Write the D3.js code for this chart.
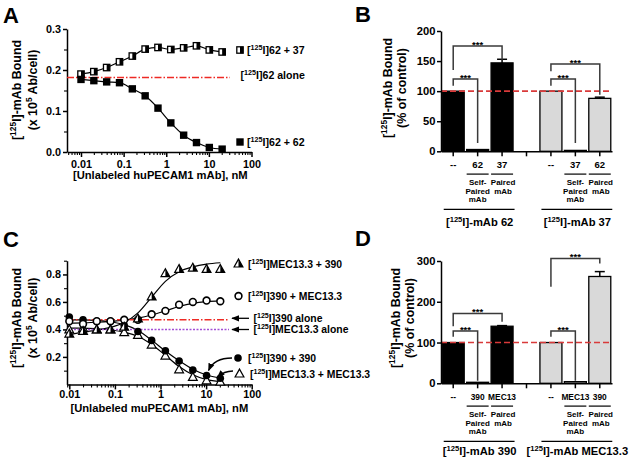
<!DOCTYPE html>
<html><head><meta charset="utf-8">
<script src="https://cdn.jsdelivr.net/npm/d3@7"></script>
<style>
body{margin:0;background:#fff}
svg text{font-family:"Liberation Sans",Arial,Helvetica,sans-serif;font-weight:bold;fill:#000}
</style>
</head><body>
<svg id="c" width="636" height="463"></svg>
<script>
// ---------------- DATA ----------------
const conc = [0.01,0.02,0.04,0.08,0.16,0.32,0.64,1.28,2.56,5.12,10.24,20.48];
const logTicks = [0.01,0.1,1,10,100];

// Panel A
const a62plus37 = [0.190,0.196,0.206,0.220,0.234,0.251,0.255,0.250,0.254,0.259,0.249,0.244];
const a62plus62 = [0.177,0.174,0.171,0.169,0.154,0.137,0.107,0.071,0.041,0.023,0.011,0.007];
const a62alone = 0.182;
const aYTicks = [0,0.1,0.2,0.3];

// Panel C
const cMECplus390    = [0.37,0.39,0.40,0.40,0.42,0.48,0.64,0.81,0.84,0.85,0.84,0.84];
const cMECplus390Fit = [0.36,0.38,0.395,0.415,0.45,0.52,0.635,0.75,0.82,0.855,0.875,0.885];
const c390plusMEC    = [0.46,0.44,0.46,0.46,0.47,0.47,0.51,0.535,0.58,0.60,0.61,0.605];
const c390plusMECFit = [0.445,0.448,0.452,0.458,0.467,0.482,0.505,0.535,0.567,0.59,0.602,0.607];
const c390plus390    = [0.49,0.47,0.46,0.46,0.43,0.385,0.32,0.245,0.17,0.105,0.065,0.045];
const c390plus390Fit = [0.47,0.47,0.466,0.456,0.435,0.392,0.322,0.243,0.172,0.11,0.068,0.045];
const cMECplusMEC    = [0.40,0.41,0.40,0.40,0.38,0.36,0.29,0.21,0.11,0.055,0.03,0.02];
const cMECplusMECFit = [0.41,0.41,0.405,0.396,0.38,0.35,0.29,0.212,0.13,0.07,0.035,0.02];
const c390alone = 0.47;
const cMECalone = 0.40;
const cYTicks = [0.2,0.4,0.6,0.8];

// Panel B
const bCats   = ['--','62','37','','--','37','62'];
const bVals   = [100, 3, 147, null, 100, 1.5, 88];
const bErr    = [0, 0, 6, null, 0, 0, 2];
const bGroup  = [0,0,0,null,1,1,1];
const bYTicks = [0,50,100,150,200];
const bBrackets = [
  {from:0,to:1,top:120,l:109,r:14},
  {from:0,to:2,top:175,l:135,r:152},
  {from:4,to:5,top:120,l:109,r:14},
  {from:4,to:6,top:145,l:133,r:94}];
const bGroupLabels = [{text:['[','^125','I]-mAb 62'],from:0,to:2},{text:['[','^125','I]-mAb 37'],from:4,to:6}];

// Panel D
const dCats   = ['--','390','MEC13','','--','MEC13','390'];
const dVals   = [100, 2.5, 140, null, 100, 4, 262];
const dErr    = [0, 0, 1.5, null, 0, 0, 12];
const dGroup  = [0,0,0,null,1,1,1];
const dYTicks = [0,100,200,300];
const dBrackets = [
  {from:0,to:1,top:128,l:114,r:6},
  {from:0,to:2,top:171,l:140,r:151},
  {from:4,to:5,top:128,l:114,r:6},
  {from:4,to:6,top:306,l:237,r:294}];
const dGroupLabels = [{text:['[','^125','I]-mAb 390'],from:0,to:2},{text:['[','^125','I]-mAb MEC13.3'],from:4,to:6}];

const subLabels = [null,['Self-','Paired','mAb'],['Paired','mAb'],null,null,['Self-','Paired','mAb'],['Paired','mAb']];

// ---------------- HELPERS ----------------
const svg = d3.select('#c');
const defs = svg.append('defs');
defs.append('marker').attr('id','ah').attr('viewBox','0 0 10 10').attr('refX',9).attr('refY',5)
  .attr('markerWidth',6).attr('markerHeight',6).attr('orient','auto')
  .append('path').attr('d','M0,1L10,5L0,9Z').attr('fill','#000');

function rich(g, x, y, parts, fs, anchor, rotate) {
  const t = g.append('text').attr('x',x).attr('y',y).attr('font-size',fs).attr('text-anchor',anchor||'start');
  if (rotate) t.attr('transform',`rotate(-90,${x},${y})`);
  let up = false;
  parts.forEach(p => {
    const sup = p.startsWith('^');
    const ts = t.append('tspan').text(sup ? p.slice(1) : p);
    if (sup) { ts.attr('font-size', fs*0.68).attr('dy', -fs*0.38); up = true; }
    else if (up) { ts.attr('dy', fs*0.38); up = false; }
  });
  return t;
}

function marker(g, type, cx, cy) {
  if (type==='sqFilled') {
    g.append('rect').attr('x',cx-3.7).attr('y',cy-3.7).attr('width',7.4).attr('height',7.4).attr('fill','#000');
  } else if (type==='sqHalf') {
    g.append('rect').attr('x',cx-3.2).attr('y',cy-3.2).attr('width',6.4).attr('height',6.4).attr('fill','#fff').attr('stroke','#000').attr('stroke-width',1.3);
    g.append('rect').attr('x',cx).attr('y',cy-3.2).attr('width',3.2).attr('height',6.4).attr('fill','#000');
  } else if (type==='circFilled') {
    g.append('circle').attr('cx',cx).attr('cy',cy).attr('r',3.8).attr('fill','#000');
  } else if (type==='circOpen') {
    g.append('circle').attr('cx',cx).attr('cy',cy).attr('r',3.4).attr('fill','#fff').attr('stroke','#000').attr('stroke-width',1.6);
  } else if (type==='triOpen' || type==='triHalf') {
    g.append('path').attr('d',`M${cx},${cy-4.4}L${cx+4.4},${cy+3.5}L${cx-4.4},${cy+3.5}Z`)
      .attr('fill','#fff').attr('stroke','#000').attr('stroke-width',1.2).attr('stroke-linejoin','miter');
    if (type==='triHalf')
      g.append('path').attr('d',`M${cx},${cy-4.4}L${cx+4.4},${cy+3.5}L${cx},${cy+3.5}Z`).attr('fill','#000');
  }
}

function styleAxis(s, fs) {
  s.selectAll('path,line').attr('stroke','#000').attr('stroke-width',1.5);
  s.selectAll('text').attr('font-size',fs).attr('fill','#000');
}

function logPanel(cfg) {
  const g = svg.append('g');
  const x0 = d3.scaleLog().domain([0.01,100]).range([cfg.x01, cfg.x100]);
  const dStart = x0.invert(cfg.axisX);
  const x = d3.scaleLog().domain([dStart,100]).range([cfg.axisX, cfg.x100]);
  const y = d3.scaleLinear().domain(cfg.yDom).range([cfg.yBottom, cfg.yTop]);
  const minor = [];
  for (let e=-3;e<=1;e++) for (let m=2;m<=9;m++){ const v=m*Math.pow(10,e); if (v>=dStart && v<100) minor.push(v); }
  g.append('g').attr('transform',`translate(0,${cfg.yBottom})`)
    .call(d3.axisBottom(x).tickValues(minor).tickSize(3).tickFormat(''))
    .call(s=>{s.select('.domain').remove(); styleAxis(s,10); s.selectAll('line').attr('stroke-width',1.1);});
  g.append('g').attr('transform',`translate(0,${cfg.yBottom})`)
    .call(d3.axisBottom(x).tickValues(logTicks).tickSize(5).tickSizeOuter(0).tickPadding(cfg.xPad).tickFormat(d=>String(d)))
    .call(s=>styleAxis(s,10.8));
  g.append('g').attr('transform',`translate(${cfg.axisX},0)`)
    .call(d3.axisLeft(y).tickValues(cfg.yMinor).tickSize(3).tickFormat(''))
    .call(s=>{s.select('.domain').remove(); styleAxis(s,10); s.selectAll('line').attr('stroke-width',1.1);});
  g.append('g').attr('transform',`translate(${cfg.axisX},0)`)
    .call(d3.axisLeft(y).tickValues(cfg.yTicks).tickSize(4).tickSizeOuter(0).tickPadding(2).tickFormat(d3.format('.1f')))
    .call(s=>styleAxis(s,10.8));
  rich(g, (cfg.axisX+cfg.x100)/2+ cfg.xtOff, cfg.xTitleY, cfg.xTitle, 11.2, 'middle');
  rich(g, 21, cfg.yMid, ['[','^125','I]-mAb Bound'], 12.4, 'middle', true);
  rich(g, 36.5, cfg.yMid, ['(x 10','^5',' Ab/cell)'], 12.4, 'middle', true);
  g.append('text').attr('x',3).attr('y',cfg.letterY).attr('font-size',22).text(cfg.letter);
  return {g,x,y};
}

function refLine(g, x, y, val, color, dash, xEnd, w) {
  g.append('line').attr('x1',x.range()[0]).attr('x2',xEnd).attr('y1',y(val)).attr('y2',y(val))
    .attr('stroke',color).attr('stroke-width',w||1.5).attr('stroke-dasharray',dash);
}

function curve(g, x, y, vals) {
  const line = d3.line().x((d,i)=>x(conc[i])).y(d=>y(d)).curve(d3.curveMonotoneX);
  g.append('path').attr('d',line(vals)).attr('fill','none').attr('stroke','#000').attr('stroke-width',1.2);
}
function points(g, x, y, vals, type) {
  vals.forEach((v,i)=>marker(g,type,x(conc[i]),y(v)));
}

// ---------------- PANEL A ----------------
(function(){
  const {g,x,y} = logPanel({x01:81,x100:251.5,axisX:67,yDom:[0,0.3],yBottom:152,yTop:29,
    yTicks:aYTicks,yMinor:[0.05,0.15,0.25],xPad:3,xTitle:['[Unlabeled huPECAM1 mAb], nM'],xTitleY:179,xtOff:1,
    yMid:90,letter:'A',letterY:23});
  refLine(g,x,y,a62alone,'#ee2a24','7,2,1.5,2',230,1.5);
  curve(g,x,y,a62plus37);
  curve(g,x,y,a62plus62);
  points(g,x,y,a62plus37,'sqHalf');
  points(g,x,y,a62plus62,'sqFilled');
  marker(g,'sqHalf',240,50);
  rich(g,247,54,['[','^125','I]62 + 37'],10.6);
  rich(g,240.5,79,['[','^125','I]62 alone'],10.6);
  marker(g,'sqFilled',240,142);
  rich(g,247,146,['[','^125','I]62 + 62'],10.6);
})();

// ---------------- PANEL C ----------------
(function(){
  const {g,x,y} = logPanel({x01:69.3,x100:251.7,axisX:67,yDom:[0,0.9],yBottom:384.4,yTop:260.7,
    yTicks:cYTicks,yMinor:[0.1,0.3,0.5,0.7,0.9],xPad:1,xTitle:['[Unlabeled muPECAM1 mAb], nM'],xTitleY:412,xtOff:0,
    yMid:318,letter:'C',letterY:247});
  curve(g,x,y,cMECplus390Fit);
  curve(g,x,y,c390plusMECFit);
  curve(g,x,y,c390plus390Fit);
  curve(g,x,y,cMECplusMECFit);
  refLine(g,x,y,c390alone,'#ee2a24','7,2,1.5,2',229,1.4);
  refLine(g,x,y,cMECalone,'#a24fd6','2,1.5',229,1.5);
  points(g,x,y,cMECplusMEC,'triOpen');
  points(g,x,y,c390plus390,'circFilled');
  points(g,x,y,c390plusMEC,'circOpen');
  points(g,x,y,cMECplus390,'triHalf');
  marker(g,'triHalf',238.5,263.5);
  rich(g,248,267.5,['[','^125','I]MEC13.3 + 390'],10.4);
  marker(g,'circOpen',238.5,296);
  rich(g,248,300,['[','^125','I]390 + MEC13.3'],10.4);
  [[318.3,'390 alone'],[329.5,'MEC13.3 alone']].forEach(([yy,t])=>{
    g.append('line').attr('x1',249).attr('x2',232).attr('y1',yy).attr('y2',yy).attr('stroke','#000').attr('stroke-width',1.3).attr('marker-end','url(#ah)');
    rich(g,253.5,yy+3.8,['[','^125','I]'+t],10.4);
  });
  marker(g,'circFilled',238,358);
  rich(g,248,362,['[','^125','I]390 + 390'],10.4);
  marker(g,'triOpen',239.5,373.5);
  rich(g,250,377.5,['[','^125','I]MEC13.3 + MEC13.3'],10.4);
  const px = x(conc[10]);
  g.append('path').attr('d',`M232,358 Q214,358 ${px+2},${y(c390plus390[10])-5}`).attr('fill','none')
    .attr('stroke','#000').attr('stroke-width',1.3).attr('marker-end','url(#ah)');
  g.append('path').attr('d',`M233,371 Q224,371 ${px+11},${y(cMECplusMEC[10])-3}`).attr('fill','none')
    .attr('stroke','#000').attr('stroke-width',1.3).attr('marker-end','url(#ah)');
})();

// ---------------- BAR PANELS ----------------
function barPanel(cfg) {
  const g = svg.append('g');
  const x = d3.scaleBand().domain(d3.range(cfg.cats.length)).range([441,612]).paddingInner(0.1).paddingOuter(0.05);
  const y = d3.scaleLinear().domain(cfg.yDom).range([cfg.yBottom,cfg.yTop]);
  const fills = ['#000','#d9d9d9'];
  cfg.vals.forEach((v,i)=>{
    if (v===null) return;
    g.append('rect').attr('x',x(i)).attr('y',y(v)).attr('width',x.bandwidth()).attr('height',y(0)-y(v))
      .attr('fill',fills[cfg.group[i]]).attr('stroke','#000').attr('stroke-width',1.3);
    if (cfg.err[i]>0) {
      const cx = x(i)+x.bandwidth()/2;
      g.append('line').attr('x1',cx).attr('x2',cx).attr('y1',y(v)).attr('y2',y(v+cfg.err[i])).attr('stroke','#000').attr('stroke-width',1.5);
      g.append('line').attr('x1',cx-5).attr('x2',cx+5).attr('y1',y(v+cfg.err[i])).attr('y2',y(v+cfg.err[i])).attr('stroke','#000').attr('stroke-width',1.5);
    }
  });
  g.append('line').attr('x1',441).attr('x2',612).attr('y1',y(100)).attr('y2',y(100))
    .attr('stroke','#d93a3a').attr('stroke-width',1.6).attr('stroke-dasharray','6,3');
  g.append('g').attr('transform',`translate(441,0)`)
    .call(d3.axisLeft(y).tickValues(cfg.yTicks).tickSize(4).tickSizeOuter(0).tickPadding(1.5).tickFormat(d3.format('d')))
    .call(s=>styleAxis(s,11.2));
  g.append('g').attr('transform',`translate(0,${cfg.yBottom})`)
    .call(d3.axisBottom(x).tickSize(5).tickSizeOuter(0).tickFormat(''))
    .call(s=>styleAxis(s,10));
  cfg.brackets.forEach(b=>{
    const x1 = x(b.from)+x.bandwidth()/2, x2 = x(b.to)+x.bandwidth()/2;
    g.append('path').attr('d',`M${x1},${y(b.l)}V${y(b.top)}H${x2}V${y(b.r)}`).attr('fill','none')
      .attr('stroke','#3a3a3a').attr('stroke-width',1.5);
    g.append('text').attr('x',(x1+x2)/2).attr('y',y(b.top)+1.8).attr('text-anchor','middle').attr('font-size',9.5).text('***');
  });
  const base = cfg.yBottom;
  cfg.cats.forEach((c,i)=>{
    if (!c) return;
    g.append('text').attr('x',x(i)+x.bandwidth()/2).attr('y',base+16.5).attr('text-anchor','middle')
      .attr('font-size',cfg.catFs).text(c);
  });
  subLabels.forEach((s,i)=>{
    if (!s) return;
    const cx = x(i)+x.bandwidth()/2;
    g.append('line').attr('x1',x(i)).attr('x2',x(i)+x.bandwidth()).attr('y1',base+22.8).attr('y2',base+22.8)
      .attr('stroke','#000').attr('stroke-width',1.2);
    const offs = s.length===3 ? [33.5,42.3,51] : [33.5,42.3];
    s.forEach((t,k)=>g.append('text').attr('x',cx+(s.length===2?1:0)).attr('y',base+offs[k]).attr('text-anchor','middle')
      .attr('font-size',8).text(t));
  });
  cfg.groups.forEach(gr=>{
    g.append('line').attr('x1',x(gr.from)+1.5).attr('x2',x(gr.to)+x.bandwidth()+1.5).attr('y1',base+58).attr('y2',base+58)
      .attr('stroke','#000').attr('stroke-width',1.2);
    const mid = (x(gr.from)+x(gr.to)+x.bandwidth())/2 + 2;
    rich(g,mid,base+cfg.glY,gr.text,11.2,'middle');
  });
  rich(g,cfg.t1x,cfg.yMid,['[','^125','I]-mAb Bound'],12.4,'middle',true);
  rich(g,cfg.t2x,cfg.yMid,['(% of control)'],12.4,'middle',true);
  g.append('text').attr('x',355).attr('y',cfg.letterY).attr('font-size',22).text(cfg.letter);
}

barPanel({cats:bCats,vals:bVals,err:bErr,group:bGroup,yDom:[0,200],yBottom:151.3,yTop:31,yTicks:bYTicks,
  brackets:bBrackets,groups:bGroupLabels,catFs:9.5,glY:74.5,t1x:391.5,t2x:405.5,yMid:88,letter:'B',letterY:22});
barPanel({cats:dCats,vals:dVals,err:dErr,group:dGroup,yDom:[0,300],yBottom:383.3,yTop:261,yTicks:dYTicks,
  brackets:dBrackets,groups:dGroupLabels,catFs:8.4,glY:72,t1x:399.5,t2x:414,yMid:318,letter:'D',letterY:246});
</script>
</body></html>
